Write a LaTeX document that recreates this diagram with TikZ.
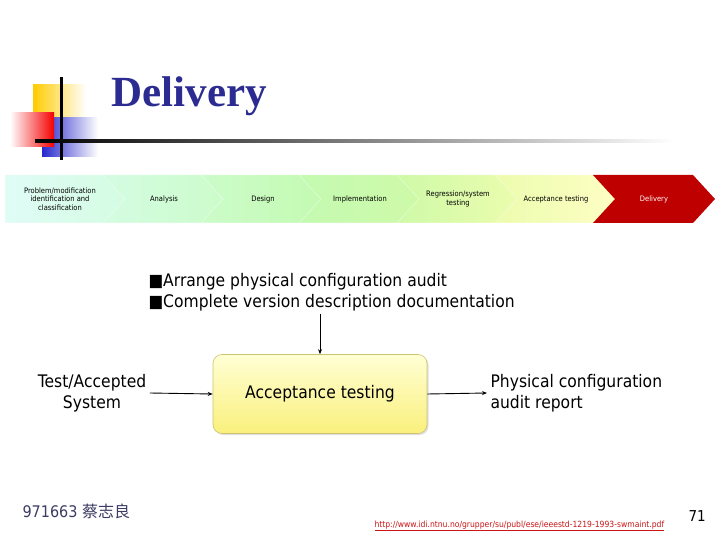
\documentclass[tikz,border=0pt]{standalone}
\usepackage{fontspec}
\setmainfont{DejaVu Sans}[FakeStretch=0.9]
\newfontfamily\titlefont{Liberation Serif}
\newfontfamily\cjkfont{Noto Sans CJK SC}
\usetikzlibrary{arrows.meta, positioning, shadows}
\definecolor{titleblue}{RGB}{43,43,145}
\definecolor{logoyellow}{RGB}{255,204,0}
\definecolor{logoblue}{RGB}{40,40,205}
\definecolor{logored}{RGB}{245,0,0}
\definecolor{stageA}{RGB}{224,252,246}
\definecolor{stageB}{RGB}{212,252,226}
\definecolor{stageC}{RGB}{204,252,202}
\definecolor{stageD}{RGB}{196,250,178}
\definecolor{stageE}{RGB}{206,250,168}
\definecolor{stageF}{RGB}{236,252,174}
\definecolor{stageG}{RGB}{254,254,196}
\definecolor{deliveryred}{RGB}{190,0,0}
\definecolor{boxtop}{RGB}{255,255,212}
\definecolor{boxbottom}{RGB}{250,240,125}
\definecolor{boxedge}{RGB}{205,195,110}
\definecolor{footgray}{RGB}{60,60,100}
\definecolor{urlred}{RGB}{200,20,20}

\begin{document}
\begin{tikzpicture}[x=1pt, y=-1pt,
    stage/.style={font=\fontsize{7.5}{8.5}\selectfont, align=center, text=black},
    body/.style={font=\fontsize{17.3}{21}\selectfont, align=center},
    link/.style={-{Stealth[length=5pt, width=4pt]}, line width=0.9pt},
    activity/.style={rectangle, rounded corners=9pt, minimum width=214pt, minimum height=79pt,
        top color=boxtop, bottom color=boxbottom, draw=boxedge, line width=0.6pt,
        drop shadow={opacity=0.25, shadow xshift=1.5pt, shadow yshift=-1.5pt}}
]
\useasboundingbox (0,0) rectangle (720,540);

% logo squares and rules
\shade[left color=logoyellow, middle color=logoyellow, right color=white] (33,85) rectangle (86,135);
\shade[left color=logoblue, middle color=logoblue, right color=white] (42,118) rectangle (98,157);
\shade[left color=white, right color=logored] (10,113) rectangle (54,147);
\fill (60,77) rectangle (62.5,160);
\shade[left color=black, middle color=black!40, right color=white] (35,139.8) rectangle (675,142.6);

\node[anchor=base west, font=\titlefont\bfseries\fontsize{43}{43}\selectfont, text=titleblue] (title) at (108,107) {Delivery};

% process chevrons
\shade[left color=stageA, right color=stageB, draw=white, draw opacity=0.5, line width=0.5pt]
    (5,175) -- (105,175) -- (127,199) -- (105,223) -- (5,223) -- cycle;
\foreach \i/\lc/\rc in {1/stageB/stageC, 2/stageC/stageD, 3/stageD/stageE, 4/stageE/stageF, 5/stageF/stageG} {
    \pgfmathsetmacro\xl{5+98*\i}
    \shade[left color=\lc, right color=\rc, draw=white, draw opacity=0.5, line width=0.5pt]
        (\xl,175) -- (\xl+100,175) -- (\xl+122,199) -- (\xl+100,223) -- (\xl,223) -- (\xl+22,199) -- cycle;
}
\fill[deliveryred] (593,175) -- (693,175) -- (715,199) -- (693,223) -- (593,223) -- (615,199) -- cycle;

\node[stage] (problem) at (60,199) {Problem/modification\\identification and\\classification};
\node[stage] (analysis) at (164,199) {Analysis};
\node[stage] (design) at (263,199) {Design};
\node[stage] (implement) at (360,199) {Implementation};
\node[stage] (regression) at (458,199) {Regression/system\\testing};
\node[stage] (acceptstage) at (556,199) {Acceptance testing};
\node[stage, text=white] (deliverystage) at (654,199) {Delivery};

% controls
\node[body, anchor=base west] (auditA) at (145,286) {■Arrange physical configuration audit};
\node[body, anchor=base west] (auditB) at (145,307) {■Complete version description documentation};

% activity with input and output
\node[activity, body] (accept) at (320,394) {Acceptance testing};
\node[body] (system) at (92,393) {Test/Accepted\\System};
\node[body, align=left, anchor=west] (report) at (487,393) {Physical configuration\\audit report};
\coordinate (feed) at (320,314);

\draw[link] (feed) -- (accept.north);
\draw[link] (system.east) -- (accept.west);
\draw[link] (accept.east) -- (report.west);

% footer
\node[anchor=base west, font=\fontsize{16}{16}\selectfont, text=footgray] (author) at (19,517) {971663 {\cjkfont 蔡志良}};
\node[anchor=base west, font=\fontsize{8.5}{8.5}\selectfont, text=urlred] (source) at (371,527) {\underline{http://www.idi.ntnu.no/grupper/su/publ/ese/ieeestd-1219-1993-swmaint.pdf}};
\node[anchor=base west, font=\fontsize{15}{15}\selectfont] (page) at (685,521) {71};
\end{tikzpicture}
\end{document}
